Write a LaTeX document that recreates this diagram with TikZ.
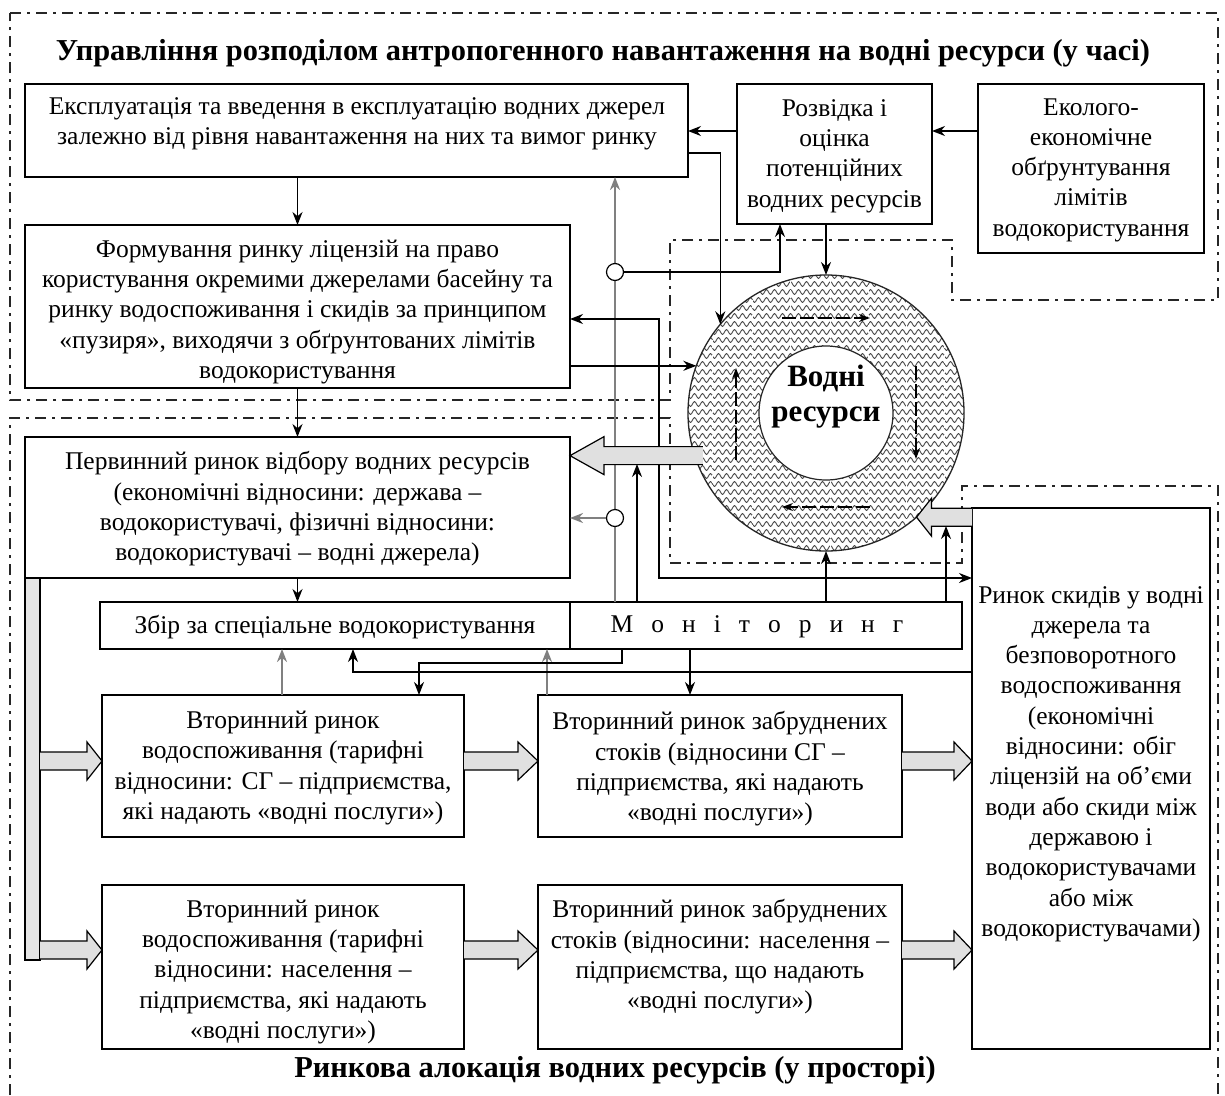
\documentclass[tikz,border=0pt]{standalone}
\usepackage{fontspec}
\setmainfont{Liberation Serif}
\usetikzlibrary{arrows.meta,calc,decorations.pathmorphing}
\newcommand\mgap{\hspace{18pt}}
\newcommand\barR[3]{\filldraw[blockar] ($(#1)+(0,-9)$) -- ($(#2)+(-#3,-9)$) -- ($(#2)+(-#3,-19)$) -- (#2) -- ($(#2)+(-#3,19)$) -- ($(#2)+(-#3,9)$) -- ($(#1)+(0,9)$);}
\newcommand\barL[3]{\filldraw[blockar] ($(#1)+(0,-9)$) -- ($(#2)+(#3,-9)$) -- ($(#2)+(#3,-19)$) -- (#2) -- ($(#2)+(#3,19)$) -- ($(#2)+(#3,9)$) -- ($(#1)+(0,9)$);}
\tikzset{
 box/.style={draw, line width=1.6pt, fill=white, inner sep=0, outer sep=0},
 txt/.style={align=center, inner sep=0, font=\fontsize{25.5}{30.3}\selectfont},
 ttl/.style={inner sep=0, font=\bfseries\fontsize{30.4}{36}\selectfont},
 region/.style={line width=1.8pt, draw=black!85, dash pattern=on 11pt off 6pt on 3pt off 6pt},
 conn/.style={line width=1.6pt, -{Stealth[length=13pt,width=10pt]}},
 gconn/.style={line width=2.2pt, color=black!50, -{Stealth[length=13pt,width=10pt]}},
 biconn/.style={line width=1.6pt, {Stealth[length=13pt,width=10pt]}-{Stealth[length=13pt,width=10pt]}},
 blockar/.style={fill=black!12, draw=black, line width=1.2pt},
 smallc/.style={circle, draw, line width=1.2pt, fill=white, minimum size=17pt, inner sep=0},
 wave/.style={decorate, decoration={snake, amplitude=2.4pt, segment length=8pt}, draw=black!72, line width=0.9pt},
 dconn/.style={line width=1.3pt, dash pattern=on 14pt off 4pt, -{Stealth[length=11pt,width=8pt]}},
}
\begin{document}
\begin{tikzpicture}[x=1pt, y=-1pt]
\useasboundingbox[fill=white] (0,0) rectangle (1225,1095);

% regions
\draw[region] (10,13) -- (1218,13) -- (1218,300) -- (952,300) -- (952,240) -- (670,240) -- (670,400) -- (10,400) -- cycle;
\draw[region] (10,1095) -- (10,418) -- (670,418) -- (670,563) -- (962,563) -- (962,486) -- (1218,486) -- (1218,1095);

% titles
\node[ttl] (T1) at (603,53) {Управління розподілом антропогенного навантаження на водні ресурси (у часі)};
\node[ttl] (T2) at (615,1070) {Ринкова алокація водних ресурсів (у просторі)};

% ring
\node[circle, minimum size=276pt, inner sep=0, outer sep=0] (WR) at (826,413) {};
\begin{scope}
 \clip (WR.center) circle (138pt);
 \foreach \yy in {276,284,...,552} { \draw[wave] (684,\yy) -- (970,\yy); }
 \foreach \xx in {712,752,790,830,868,906,944} { \draw[white, line width=0.6pt, dash pattern=on 3pt off 2pt] (\xx,270) -- (\xx,560); }
\end{scope}
\draw[line width=1.3pt, black!85] (WR.center) circle (138pt);
\draw[line width=1.2pt, black!85, fill=white] (WR.center) circle (67pt);
\draw[dconn] ($(WR.center)+(-44,-95)$) -- ($(WR.center)+(44,-95)$);
\draw[dconn] ($(WR.center)+(90,-47)$) -- ($(WR.center)+(90,46)$);
\draw[dconn] ($(WR.center)+(44,94)$) -- ($(WR.center)+(-44,94)$);
\draw[dconn] ($(WR.center)+(-90,47)$) -- ($(WR.center)+(-90,-45)$);
\node[align=center, inner sep=0, font=\bfseries\fontsize{31}{35}\selectfont] (WRt) at (826,397) {Водні\\ресурси};

% boxes
\node[box, minimum width=663pt, minimum height=93pt] (B1) at (356.5,130.5) {};
\node[box, minimum width=195pt, minimum height=140pt] (B2) at (834.5,154) {};
\node[box, minimum width=226pt, minimum height=169pt] (B3) at (1091,168.5) {};
\node[box, minimum width=545pt, minimum height=163pt] (B4) at (297.5,306.5) {};
\node[box, minimum width=545pt, minimum height=141pt] (B5) at (297.5,507.5) {};
\node[box, minimum width=470pt, minimum height=47pt] (ZB) at (335,625.5) {};
\node[box, minimum width=392pt, minimum height=47pt] (MON) at (766,625.5) {};
\node[box, minimum width=362pt, minimum height=142pt] (B6) at (283,766) {};
\node[box, minimum width=364pt, minimum height=142pt] (B7) at (720,766) {};
\node[box, minimum width=362pt, minimum height=164pt] (B8) at (283,967) {};
\node[box, minimum width=364pt, minimum height=164pt] (B9) at (720,967) {};
\node[box, minimum width=238pt, minimum height=541pt] (B10) at (1091,778.5) {};
\node[box, fill=black!10, minimum width=15pt, minimum height=382pt] (BAR) at (32.5,769) {};

% texts
\node[txt] (B1t) at (357,124) {Експлуатація та введення в експлуатацію водних джерел\\залежно від рівня навантаження на них та вимог ринку};
\node[txt] (B2t) at (834.5,156) {Розвідка і\\оцінка\\потенційних\\водних ресурсів};
\node[txt] (B3t) at (1091,170) {Еколого-\\економічне\\обґрунтування\\лімітів\\водокористування};
\node[txt] (B4t) at (297.5,312) {Формування ринку ліцензій на право\\користування окремими джерелами басейну та\\ринку водоспоживання і скидів за принципом\\«пузиря», виходячи з обґрунтованих лімітів\\водокористування};
\node[txt] (B5t) at (297.5,509) {Первинний ринок відбору водних ресурсів\\(економічні відносини: держава –\\водокористувачі, фізичні відносини:\\водокористувачі – водні джерела)};
\node[txt] (ZBt) at (335,627) {Збір за спеціальне водокористування};
\node[txt] (MONt) at (757,627) {М\mgap о\mgap н\mgap і\mgap т\mgap о\mgap р\mgap и\mgap н\mgap г};
\node[txt] (B6t) at (283,768) {Вторинний ринок\\водоспоживання (тарифні\\відносини: СГ – підприємства,\\які надають «водні послуги»)};
\node[txt] (B7t) at (720,769) {Вторинний ринок забруднених\\стоків (відносини СГ –\\підприємства, які надають\\«водні послуги»)};
\node[txt] (B8t) at (283,972) {Вторинний ринок\\водоспоживання (тарифні\\відносини: населення –\\підприємства, які надають\\«водні послуги»)};
\node[txt] (B9t) at (720,957) {Вторинний ринок забруднених\\стоків (відносини: населення –\\підприємства, що надають\\«водні послуги»)};
\node[txt] (B10t) at (1091,764) {Ринок скидів у водні\\джерела та\\безповоротного\\водоспоживання\\(економічні\\відносини: обіг\\ліцензій на об’єми\\води або скиди між\\державою і\\водокористувачами\\або між\\водокористувачами)};

% connectors
\draw[conn] (B2.west |- 0,131) -- (B1.east |- 0,131);
\draw[conn] (B3.west |- 0,131) -- (B2.east |- 0,131);
\draw[conn] (B1.south -| B4.north) -- (B4.north);
\draw[conn] (B4.south) -- (B5.north);
\draw[conn] (B5.south) -- (B5.south |- ZB.north);
\draw[conn] (B1.east |- 0,153) -| (WR.140);
\draw[conn] (B2.south -| WR.north) -- (WR.north);
\draw[gconn] (MON.north -| 615,0) -- (B1.south -| 615,0);
\node[smallc] (C1) at (615,272) {};
\node[smallc] (C2) at (615,518) {};
\draw[conn] (C1.east) -| (B2.south -| 780,0);
\draw[gconn] (C2.west) -- (B5.east |- C2.west);
\draw[biconn] (B4.east |- 0,319) -| (659,578) -- (B10.west |- 0,578);
\draw[conn] (B4.east |- WR.160) -- (WR.160);
\draw[conn] (MON.north -| WR.south) -- (WR.south);
\draw[conn] (MON.north -| 946,0) -- (946,526);
\draw[conn] (MON.north -| 637,0) -- (637,464);
\draw[gconn] (B6.north -| 282,0) -- (ZB.south -| 282,0);
\draw[gconn] (B7.north -| 547,0) -- (ZB.south -| 547,0);
\draw[conn] (B10.west |- 0,672) -| (ZB.south -| 353,0);
\draw[conn] (MON.south -| 622,0) -- (622,663) -- (419,663) -- (B6.north -| 419,0);
\draw[conn] (MON.south -| 690,0) -- (B7.north -| 690,0);

% block arrows
\coordinate (a1s) at ($(WR.198)+(8,0)$);
\coordinate (a1t) at (B5.east |- a1s);
\barL{a1s}{a1t}{34}
\coordinate (a2s) at (B10.west |- WR.-49);
\barL{a2s}{WR.-49}{15}
\coordinate (a3s) at (BAR.east |- 0,761);
\coordinate (a3t) at (B6.west |- 0,761);
\barR{a3s}{a3t}{15}
\coordinate (a4s) at (BAR.east |- 0,950);
\coordinate (a4t) at (B8.west |- 0,950);
\barR{a4s}{a4t}{15}
\coordinate (a5s) at (B6.east |- 0,761);
\coordinate (a5t) at (B7.west |- 0,761);
\barR{a5s}{a5t}{20}
\coordinate (a6s) at (B8.east |- 0,950);
\coordinate (a6t) at (B9.west |- 0,950);
\barR{a6s}{a6t}{20}
\coordinate (a7s) at (B7.east |- 0,761);
\coordinate (a7t) at (B10.west |- 0,761);
\barR{a7s}{a7t}{18}
\coordinate (a8s) at (B9.east |- 0,950);
\coordinate (a8t) at (B10.west |- 0,950);
\barR{a8s}{a8t}{18}
\end{tikzpicture}
\end{document}
